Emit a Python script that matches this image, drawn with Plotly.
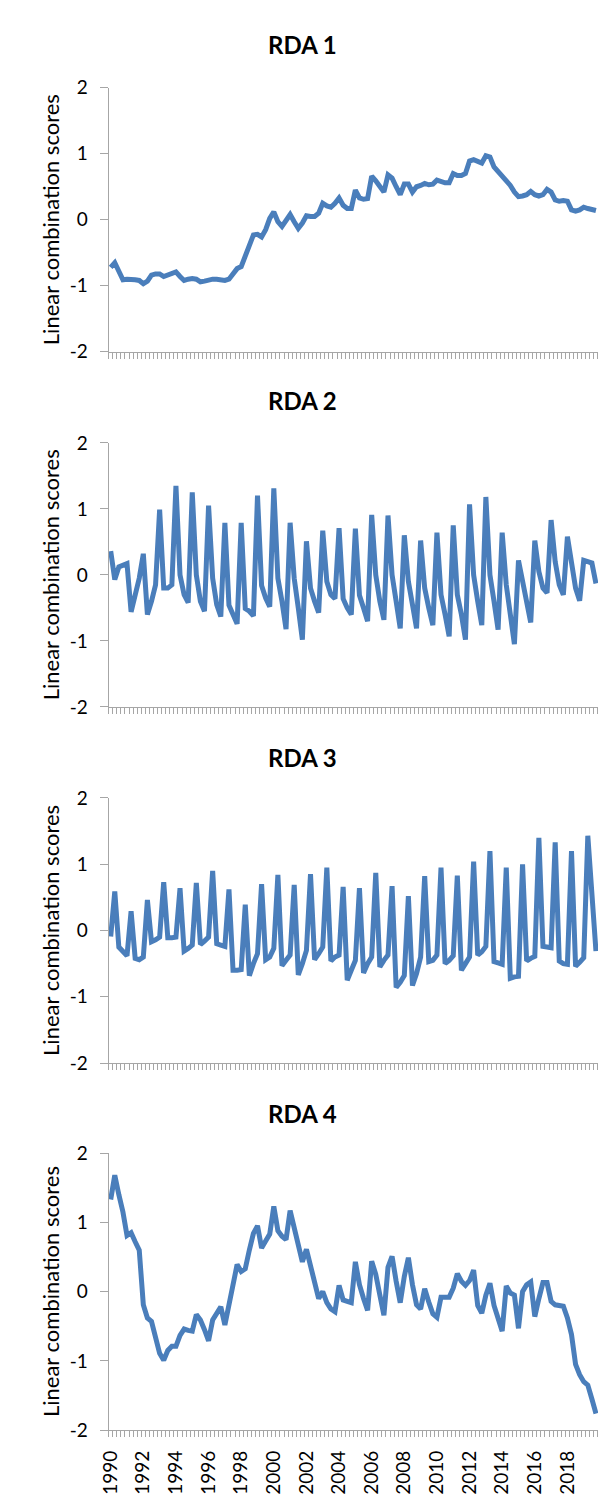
import plotly.graph_objects as go

# ---------------- data ----------------
years = list(range(1990, 2020))
quarters = [f"{y} Q{q}" for y in years for q in (1, 2, 3, 4)]
label_years = list(range(1990, 2020, 2))

rda1 = [-0.72, -0.65, -0.78, -0.91, -0.90, -0.90, -0.91, -0.92, -0.97, -0.93,
        -0.84, -0.82, -0.82, -0.86, -0.83, -0.80, -0.79, -0.86, -0.92, -0.90,
        -0.89, -0.90, -0.94, -0.93, -0.91, -0.90, -0.90, -0.91, -0.92, -0.90,
        -0.82, -0.74, -0.71, -0.55, -0.38, -0.23, -0.22, -0.26, -0.15, 0.02,
        0.12, -0.03, -0.10, 0.00, 0.08, -0.03, -0.13, -0.05, 0.06, 0.05,
        0.05, 0.10, 0.25, 0.21, 0.19, 0.25, 0.33, 0.22, 0.17, 0.17,
        0.45, 0.33, 0.31, 0.32, 0.66, 0.59, 0.50, 0.42, 0.68, 0.63,
        0.50, 0.38, 0.54, 0.54, 0.42, 0.50, 0.52, 0.55, 0.53, 0.54,
        0.60, 0.57, 0.56, 0.56, 0.70, 0.67, 0.67, 0.70, 0.89, 0.91,
        0.89, 0.86, 0.97, 0.95, 0.80, 0.73, 0.66, 0.61, 0.52, 0.42,
        0.35, 0.36, 0.38, 0.43, 0.38, 0.36, 0.38, 0.46, 0.42, 0.30,
        0.28, 0.29, 0.28, 0.15, 0.13, 0.15, 0.19, 0.17, 0.16, 0.14]

rda2 = [0.36, -0.07, 0.12, 0.15, 0.17, -0.56, -0.30, -0.05, 0.32, -0.60,
        -0.40, -0.15, 0.99, -0.20, -0.20, -0.15, 1.35, 0.00, -0.30, -0.42,
        1.25, 0.00, -0.40, -0.55, 1.05, -0.05, -0.45, -0.63, 0.79, -0.46,
        -0.60, -0.74, 0.79, -0.51, -0.55, -0.62, 1.20, -0.16, -0.35, -0.48,
        1.31, -0.05, -0.40, -0.82, 0.79, -0.05, -0.50, -0.98, 0.51, -0.20,
        -0.40, -0.57, 0.67, -0.10, -0.30, -0.36, 0.71, -0.36, -0.50, -0.60,
        0.70, -0.31, -0.50, -0.70, 0.91, 0.00, -0.40, -0.68, 0.90, 0.00,
        -0.40, -0.81, 0.60, -0.10, -0.45, -0.81, 0.52, -0.20, -0.50, -0.76,
        0.64, -0.30, -0.60, -0.93, 0.75, -0.30, -0.60, -0.98, 1.07, 0.00,
        -0.40, -0.76, 1.18, 0.00, -0.40, -0.83, 0.64, -0.15, -0.60, -1.05,
        0.22, -0.10, -0.45, -0.72, 0.52, 0.05, -0.20, -0.27, 0.83, 0.20,
        -0.15, -0.30, 0.58, 0.15, -0.20, -0.39, 0.22, 0.20, 0.18, -0.13]

rda3 = [-0.09, 0.59, -0.25, -0.33, -0.38, 0.29, -0.42, -0.44, -0.40, 0.46,
        -0.17, -0.14, -0.10, 0.73, -0.11, -0.11, -0.10, 0.64, -0.31, -0.27,
        -0.22, 0.72, -0.21, -0.16, -0.10, 0.90, -0.20, -0.22, -0.24, 0.62,
        -0.60, -0.60, -0.59, 0.39, -0.68, -0.50, -0.35, 0.70, -0.44, -0.40,
        -0.27, 0.84, -0.53, -0.45, -0.37, 0.69, -0.67, -0.50, -0.30, 0.85,
        -0.44, -0.35, -0.25, 0.95, -0.46, -0.40, -0.37, 0.66, -0.75, -0.60,
        -0.45, 0.64, -0.64, -0.50, -0.40, 0.87, -0.55, -0.45, -0.37, 0.67,
        -0.86, -0.78, -0.68, 0.52, -0.83, -0.65, -0.40, 0.82, -0.47, -0.45,
        -0.37, 0.95, -0.50, -0.45, -0.38, 0.83, -0.60, -0.50, -0.40, 1.04,
        -0.37, -0.32, -0.24, 1.20, -0.47, -0.49, -0.51, 0.95, -0.72, -0.70,
        -0.69, 1.00, -0.46, -0.42, -0.39, 1.40, -0.24, -0.25, -0.26, 1.33,
        -0.46, -0.50, -0.51, 1.20, -0.54, -0.48, -0.41, 1.43, 0.55, -0.31]

rda4 = [1.33, 1.68, 1.40, 1.15, 0.81, 0.85, 0.72, 0.60, -0.19, -0.38,
        -0.43, -0.65, -0.89, -0.99, -0.85, -0.79, -0.79, -0.63, -0.54, -0.56,
        -0.57, -0.33, -0.41, -0.55, -0.71, -0.41, -0.30, -0.22, -0.48, -0.19,
        0.15, 0.39, 0.29, 0.33, 0.60, 0.84, 0.95, 0.63, 0.73, 0.83,
        1.23, 0.88, 0.80, 0.75, 1.17, 0.92, 0.65, 0.43, 0.61, 0.37,
        0.10, -0.10, 0.00, -0.16, -0.25, -0.29, 0.09, -0.12, -0.14, -0.16,
        0.43, 0.10, -0.10, -0.27, 0.44, 0.25, -0.05, -0.34, 0.35, 0.51,
        0.15, -0.16, 0.22, 0.49, 0.10, -0.19, -0.25, 0.04, -0.15, -0.32,
        -0.37, -0.08, -0.08, -0.08, 0.05, 0.26, 0.15, 0.09, 0.16, 0.31,
        -0.20, -0.31, -0.05, 0.12, -0.20, -0.40, -0.57, 0.08, -0.02, -0.05,
        -0.53, 0.00, 0.10, 0.14, -0.36, -0.10, 0.13, 0.13, -0.14, -0.19,
        -0.20, -0.21, -0.38, -0.62, -1.05, -1.20, -1.30, -1.35, -1.55, -1.76]

series = [("RDA 1", rda1), ("RDA 2", rda2), ("RDA 3", rda3), ("RDA 4", rda4)]
y_ticks = [-2, -1, 0, 1, 2]
y_ticktext = ["-2", "-1", "0", "1", "2"]
y_title = "Linear combination scores"

# ---------------- layout (pixels) ----------------
W, H = 612, 1510
x0_px, x1_px = 91.3, 589.6
plots_px = [(68.8, 336.9), (429.4, 697.6), (790.0, 1059.2), (1150.6, 1432.0)]   # (top, bottom)
title_y_px = [24.6, 386.0, 748.4, 1110.5]
title_x_px = 289
ytitle_x_px = 32

LINE = "#4A7EBB"
AXIS = "#A6A6A6"
FONT = "Lato"

xpos = list(range(len(quarters)))
label_pos = [quarters.index(f"{y} Q1") for y in label_years]

fig = go.Figure()
annotations = []
layout = dict(width=W, height=H, margin=dict(l=0, r=0, t=0, b=0),
              paper_bgcolor="white", plot_bgcolor="white", showlegend=False,
              font=dict(family=FONT, color="black"))

for k, ((name, vals), (top, bot)) in enumerate(zip(series, plots_px), start=1):
    sfx = "" if k == 1 else str(k)
    fig.add_trace(go.Scatter(x=xpos, y=vals, mode="lines",
                             line=dict(color=LINE, width=5),
                             xaxis="x" + sfx, yaxis="y" + sfx,
                             customdata=quarters, hovertemplate="%{customdata}: %{y}<extra></extra>"))
    layout["xaxis" + sfx] = dict(
        domain=[x0_px / W, x1_px / W], range=[-0.5, len(quarters) - 0.5],
        anchor="y" + sfx, showline=True, linecolor=AXIS, linewidth=1,
        showgrid=False, zeroline=False, ticks="",
        tickmode="array", tickvals=label_pos, ticktext=[str(y) for y in label_years],
        showticklabels=(k == 4), tickangle=-90, ticklabelstandoff=12,
        tickfont=dict(family=FONT, size=19, color="black"),
        minor=dict(tickmode="linear", tick0=-0.5, dtick=1, ticks="outside",
                   ticklen=6, tickwidth=1, tickcolor=AXIS, showgrid=False),
    )
    layout["yaxis" + sfx] = dict(
        domain=[1 - bot / H, 1 - top / H], range=[-2, 2],
        anchor="x" + sfx, showline=True, linecolor=AXIS, linewidth=1,
        showgrid=False, zeroline=False, ticks="outside", ticklen=8,
        tickwidth=1, tickcolor=AXIS, tickmode="array", tickvals=y_ticks,
        ticktext=y_ticktext, ticklabelstandoff=8,
        tickfont=dict(family=FONT, size=19, color="black"),
    )
    annotations.append(dict(text=name, xref="paper", yref="paper",
                            x=title_x_px / W, y=1 - title_y_px[k - 1] / H,
                            xanchor="center", yanchor="middle", showarrow=False,
                            font=dict(family=FONT, size=24, color="black", weight="bold")))
    annotations.append(dict(text=y_title, xref="paper", yref="paper",
                            x=ytitle_x_px / W, y=1 - (top + bot) / 2 / H,
                            xanchor="center", yanchor="middle", showarrow=False,
                            textangle=-90,
                            font=dict(family=FONT, size=22, color="black")))

layout["annotations"] = annotations
fig.update_layout(**layout)
fig.write_html("out.html")
